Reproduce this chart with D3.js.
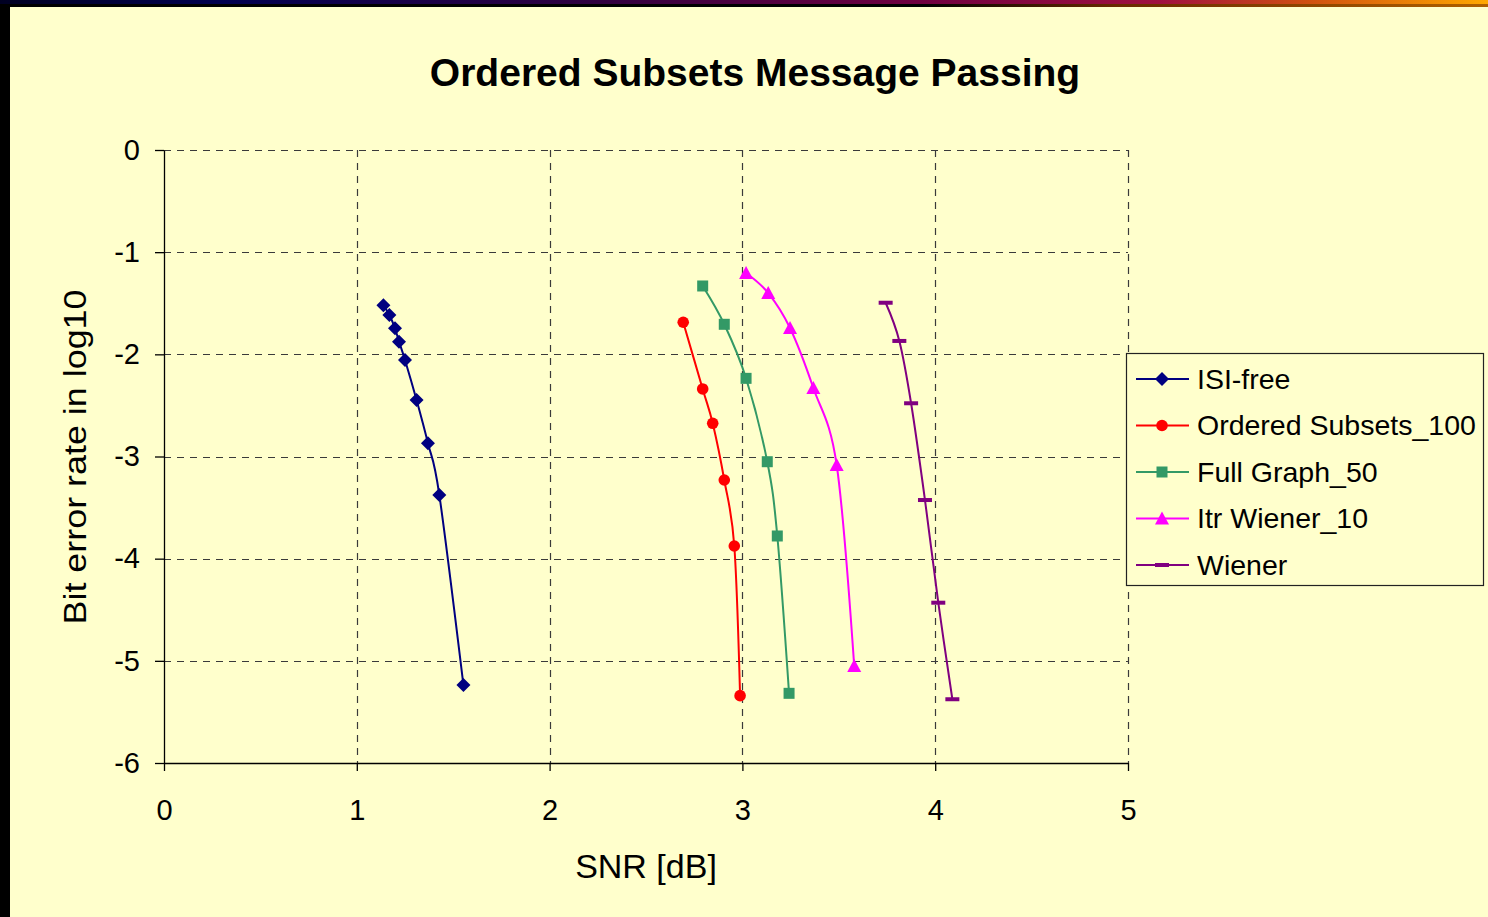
<!DOCTYPE html>
<html>
<head>
<meta charset="utf-8">
<script src="https://cdn.jsdelivr.net/npm/d3@7"></script>
<style>
  html, body { margin: 0; padding: 0; background: #FFFFCC; overflow: hidden; }
  svg { display: block; font-family: Arial, "Liberation Sans", sans-serif; }
</style>
</head>
<body>
<svg id="chart" width="1488" height="917"></svg>
<script>
// Axis ticks
const xTicks = [0, 1, 2, 3, 4, 5];
const yTicks = [0, -1, -2, -3, -4, -5, -6];

// Series names (legend order)
const seriesNames = ["ISI-free", "Ordered Subsets_100", "Full Graph_50", "Itr Wiener_10", "Wiener"];

// SNR [dB] and log10(BER) per series
const isiFreeX = [1.138, 1.169, 1.198, 1.219, 1.250, 1.310, 1.369, 1.428, 1.553];
const isiFreeY = [-1.52, -1.615, -1.745, -1.876, -2.055, -2.447, -2.871, -3.376, -5.236];

const orderedX = [2.693, 2.794, 2.846, 2.906, 2.958, 2.988];
const orderedY = [-1.686, -2.339, -2.675, -3.230, -3.876, -5.341];

const fullGraphX = [2.794, 2.906, 3.019, 3.129, 3.181, 3.242];
const fullGraphY = [-1.331, -1.706, -2.235, -3.051, -3.778, -5.318];

const itrWienerX = [3.019, 3.134, 3.247, 3.368, 3.489, 3.580];
const itrWienerY = [-1.204, -1.400, -1.742, -2.330, -3.083, -5.050];

const wienerX = [3.743, 3.814, 3.875, 3.947, 4.016, 4.089];
const wienerY = [-1.495, -1.869, -2.479, -3.426, -4.431, -5.376];

const seriesX = [isiFreeX, orderedX, fullGraphX, itrWienerX, wienerX];
const seriesY = [isiFreeY, orderedY, fullGraphY, itrWienerY, wienerY];

const colors = ["#000080", "#FF0000", "#339966", "#FF00FF", "#800080"];
const markers = ["diamond", "circle", "square", "triangle", "dash"];

const svg = d3.select("#chart");
const W = 1488, H = 917;

// Slide frame: gradient strip across the top, dark band on the left
const defs = svg.append("defs");
const grad = defs.append("linearGradient").attr("id", "topbar").attr("x1", "0").attr("x2", "1");
[["0%", "#000022"], ["15%", "#000050"], ["40%", "#300040"], ["62%", "#700040"], ["78%", "#A01040"], ["88%", "#D05010"], ["100%", "#FFA800"]]
  .forEach(([o, c]) => grad.append("stop").attr("offset", o).attr("stop-color", c));
const grad2 = defs.append("linearGradient").attr("id", "topbar2").attr("x1", "0").attr("x2", "1");
[["0%", "#000000"], ["62%", "#000000"], ["75%", "#6a2a00"], ["100%", "#B06000"]]
  .forEach(([o, c]) => grad2.append("stop").attr("offset", o).attr("stop-color", c));

svg.append("rect").attr("width", W).attr("height", H).attr("fill", "#FFFFCC");
svg.append("rect").attr("x", 0).attr("y", 0).attr("width", W).attr("height", 4).attr("fill", "url(#topbar)");
svg.append("rect").attr("x", 0).attr("y", 4).attr("width", W).attr("height", 3).attr("fill", "url(#topbar2)");
svg.append("rect").attr("x", 0).attr("y", 4).attr("width", 10).attr("height", H - 4).attr("fill", "#000000");

// Scales
const x = d3.scaleLinear().domain([0, 5]).range([164, 1128]);
const y = d3.scaleLinear().domain([-6, 0]).range([763, 150]);

// Gridlines
const grid = svg.append("g").attr("stroke", "#3a3a3a").attr("stroke-width", 1.2).attr("stroke-dasharray", "7,6");
yTicks.filter(v => v !== -6).forEach(v => {
  grid.append("line").attr("x1", x(0)).attr("x2", x(5)).attr("y1", Math.round(y(v)) + 0.5).attr("y2", Math.round(y(v)) + 0.5);
});
xTicks.filter(v => v !== 0).forEach(v => {
  grid.append("line").attr("x1", Math.round(x(v)) + 0.5).attr("x2", Math.round(x(v)) + 0.5).attr("y1", y(0)).attr("y2", y(-6));
});

// Axes
const xAxis = d3.axisBottom(x).tickValues(xTicks).tickSize(8).tickSizeOuter(0).tickPadding(28).tickFormat(d3.format("d"));
const yAxis = d3.axisLeft(y).tickValues(yTicks).tickSize(9).tickSizeOuter(0).tickPadding(15).tickFormat(d => d === 0 ? "0" : "-" + Math.abs(d));

const gx = svg.append("g").attr("transform", `translate(0,${y(-6)})`).call(xAxis);
const gy = svg.append("g").attr("transform", `translate(${x(0)},0)`).call(yAxis);
[gx, gy].forEach(g => {
  g.select(".domain").attr("stroke", "#000").attr("stroke-width", 1.3);
  g.selectAll(".tick line").attr("stroke", "#000").attr("stroke-width", 1.3);
  g.selectAll(".tick text").attr("fill", "#000").attr("font-size", 29).attr("font-family", "Arial, 'Liberation Sans', sans-serif");
});
gx.selectAll(".tick text").attr("dy", "0.71em");

// Titles
svg.append("text").attr("x", 755).attr("y", 86).attr("text-anchor", "middle")
  .attr("font-size", 39).attr("font-weight", "bold").attr("fill", "#000").text("Ordered Subsets Message Passing");
svg.append("text").attr("x", 646).attr("y", 878).attr("text-anchor", "middle")
  .attr("font-size", 34).attr("fill", "#000").text("SNR [dB]");
svg.append("text").attr("transform", "translate(86,457) rotate(-90)").attr("text-anchor", "middle")
  .attr("font-size", 32).attr("fill", "#000").attr("textLength", 335).attr("lengthAdjust", "spacingAndGlyphs")
  .text("Bit error rate in log10");

// Marker drawing
function drawMarker(g, type, color, cx, cy) {
  if (type === "diamond") {
    g.append("path").attr("d", `M${cx},${cy - 7}L${cx + 7},${cy}L${cx},${cy + 7}L${cx - 7},${cy}Z`).attr("fill", color);
  } else if (type === "circle") {
    g.append("circle").attr("cx", cx).attr("cy", cy).attr("r", 5.8).attr("fill", color);
  } else if (type === "square") {
    g.append("rect").attr("x", cx - 5.5).attr("y", cy - 5.5).attr("width", 11).attr("height", 11).attr("fill", color);
  } else if (type === "triangle") {
    g.append("path").attr("d", `M${cx},${cy - 7}L${cx + 7},${cy + 6}L${cx - 7},${cy + 6}Z`).attr("fill", color);
  } else if (type === "dash") {
    g.append("rect").attr("x", cx - 7).attr("y", cy - 2).attr("width", 14).attr("height", 4).attr("fill", color);
  }
}

// Series lines and markers
const line = d3.line().x(d => x(d[0])).y(d => y(d[1])).curve(d3.curveCardinal.tension(0));
seriesNames.forEach((name, i) => {
  const pts = seriesX[i].map((v, j) => [v, seriesY[i][j]]);
  const g = svg.append("g");
  g.append("path").datum(pts).attr("d", line).attr("fill", "none")
    .attr("stroke", colors[i]).attr("stroke-width", 2);
  pts.forEach(p => drawMarker(g, markers[i], colors[i], x(p[0]), y(p[1])));
});

// Legend
const lg = svg.append("g");
lg.append("rect").attr("x", 1126.5).attr("y", 353.5).attr("width", 357).attr("height", 232)
  .attr("fill", "#FFFFCC").attr("stroke", "#222").attr("stroke-width", 1.2);
seriesNames.forEach((name, i) => {
  const cy = 379 + i * 46.5;
  lg.append("line").attr("x1", 1136).attr("x2", 1189).attr("y1", cy).attr("y2", cy)
    .attr("stroke", colors[i]).attr("stroke-width", 2);
  drawMarker(lg, markers[i], colors[i], 1162, cy);
  lg.append("text").attr("x", 1197).attr("y", cy).attr("dy", "0.35em")
    .attr("font-size", 28.5).attr("fill", "#000").text(name);
});
</script>
</body>
</html>
